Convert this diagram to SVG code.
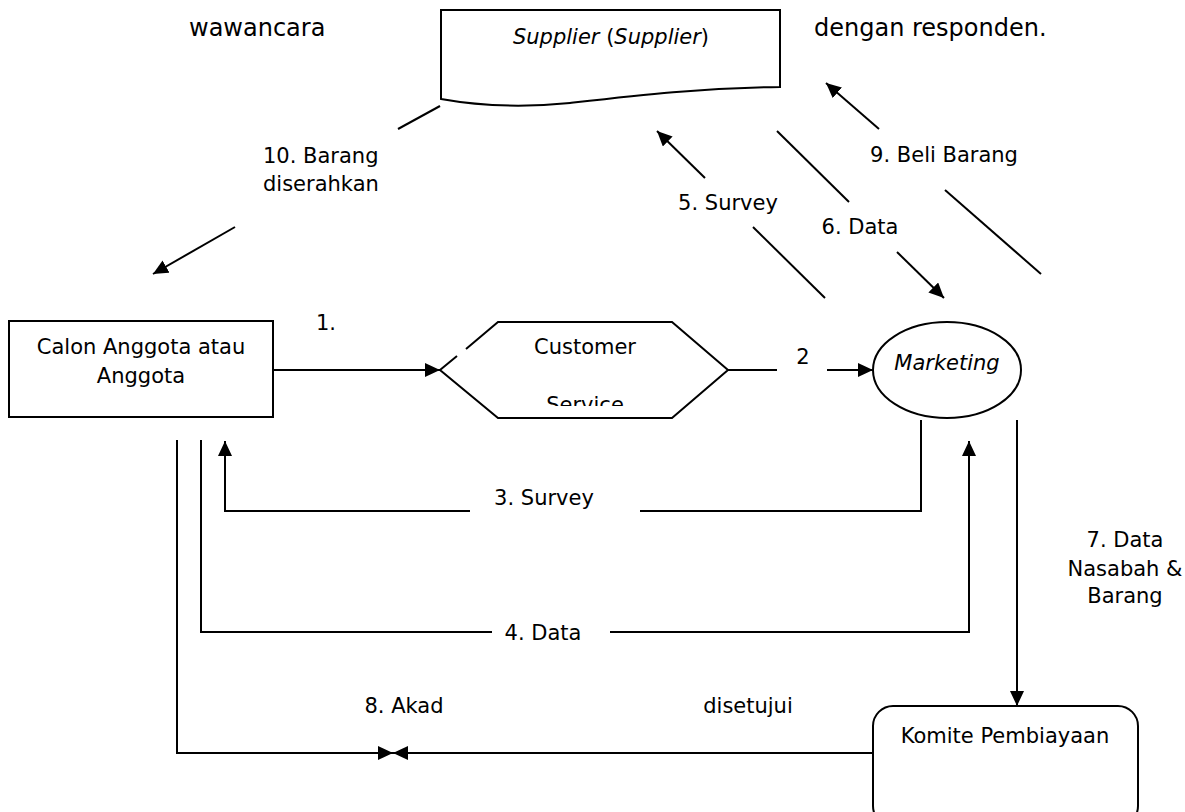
<svg xmlns="http://www.w3.org/2000/svg" width="1185" height="812" viewBox="0 0 1185 812">
<style>
text{font-family:"DejaVu Sans","Verdana",sans-serif;font-size:21px;fill:#000}
.c{text-anchor:middle}
.i{font-style:italic}
.body{font-size:24px}
.shape{fill:#fff;stroke:#000;stroke-width:2}
.ln{fill:none;stroke:#000;stroke-width:2}
</style>
<defs>
<marker id="ah" viewBox="0 0 15 14" refX="15" refY="7" markerWidth="15" markerHeight="14" markerUnits="userSpaceOnUse" orient="auto">
<path d="M0,0 L15,7 L0,14 Z" fill="#000"/>
</marker>
<clipPath id="svcclip"><rect x="480" y="330" width="220" height="76"/></clipPath>
</defs>
<rect width="1185" height="812" fill="#fff"/>
<text class="body" x="189" y="36">wawancara</text>
<text class="body" x="814" y="36">dengan responden.</text>

<g id="supplier">
<path class="shape" d="M441,10 H780 V87 C700,88 640,95 570,103 C520,108 480,106 441,99 Z"/>
<text class="c" x="611" y="44"><tspan class="i">Supplier</tspan> (<tspan class="i">Supplier</tspan>)</text>
</g>

<g id="calon">
<rect class="shape" x="9" y="321" width="264" height="96"/>
<text class="c" x="141" y="354">Calon Anggota atau</text>
<text class="c" x="141" y="383">Anggota</text>
</g>

<g id="customer-service">
<path class="shape" d="M466,349 L498,322 L672,322 L728,370 L672,418 L498,418 L440,370 L457,356" />
<text class="c" x="585" y="354">Customer</text>
<text class="c" x="585" y="412" clip-path="url(#svcclip)">Service</text>
</g>

<g id="marketing">
<ellipse class="shape" cx="947" cy="370" rx="74" ry="48"/>
<text class="c i" x="947" y="370">Marketing</text>
</g>

<g id="komite">
<rect class="shape" x="873" y="706" width="265" height="120" rx="20" ry="20"/>
<text class="c" x="1005" y="743">Komite Pembiayaan</text>
</g>

<g id="connectors">
<line class="ln" x1="273" y1="370" x2="440" y2="370" marker-end="url(#ah)"/>
<text x="316" y="330">1.</text>
<line class="ln" x1="728" y1="370" x2="777" y2="370"/>
<line class="ln" x1="827" y1="370" x2="873" y2="370" marker-end="url(#ah)"/>
<text class="c" x="803" y="364">2</text>
<polyline class="ln" points="921,420 921,511 640,511"/>
<polyline class="ln" points="470,511 225,511 225,441" marker-end="url(#ah)"/>
<text class="c" x="544" y="505">3. Survey</text>
<polyline class="ln" points="201,440 201,632 492,632"/>
<polyline class="ln" points="610,632 969,632 969,441" marker-end="url(#ah)"/>
<text class="c" x="543" y="640">4. Data</text>
<line class="ln" x1="825" y1="298" x2="753" y2="227"/>
<line class="ln" x1="705" y1="178" x2="657" y2="131" marker-end="url(#ah)"/>
<text class="c" x="728" y="210">5. Survey</text>
<line class="ln" x1="777" y1="131" x2="849" y2="202"/>
<line class="ln" x1="897" y1="252" x2="944" y2="298" marker-end="url(#ah)"/>
<text class="c" x="860" y="234">6. Data</text>
<line class="ln" x1="1017" y1="420" x2="1017" y2="706" marker-end="url(#ah)"/>
<text class="c" x="1125" y="547">7. Data</text>
<text class="c" x="1125" y="576">Nasabah &amp;</text>
<text class="c" x="1125" y="603">Barang</text>
<polyline class="ln" points="177,440 177,753 393,753" marker-end="url(#ah)"/>
<line class="ln" x1="873" y1="753" x2="393" y2="753" marker-end="url(#ah)"/>
<text class="c" x="404" y="713">8. Akad</text>
<text class="c" x="748" y="713">disetujui</text>
<line class="ln" x1="1041" y1="274" x2="945" y2="190"/>
<line class="ln" x1="879" y1="129" x2="826" y2="83" marker-end="url(#ah)"/>
<text class="c" x="944" y="162">9. Beli Barang</text>
<line class="ln" x1="440" y1="106" x2="398" y2="129"/>
<line class="ln" x1="235" y1="227" x2="153" y2="274" marker-end="url(#ah)"/>
<text x="263" y="163">10. Barang</text>
<text x="263" y="191">diserahkan</text>
</g>
</svg>
